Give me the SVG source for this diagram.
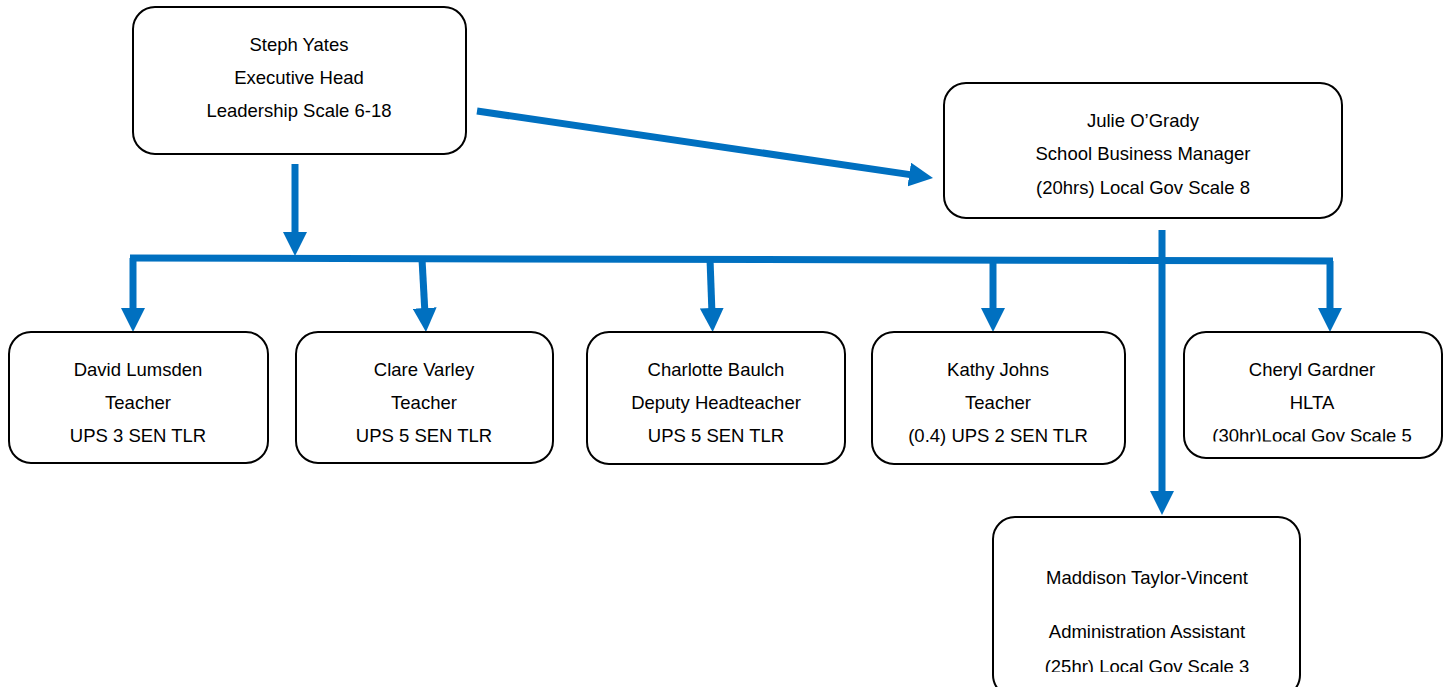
<svg xmlns="http://www.w3.org/2000/svg" width="1448" height="687" viewBox="0 0 1448 687">
<style>
.box{fill:#ffffff;stroke:#000000;stroke-width:2}
.t{font-family:"Liberation Sans",Arial,sans-serif;font-size:18.5px;fill:#000000;text-anchor:middle}
.c{fill:none;stroke:#0070C0;stroke-width:7;stroke-linejoin:miter}
.a{marker-end:url(#arr)}
</style>
<defs>
<marker id="arr" markerUnits="userSpaceOnUse" markerWidth="24" markerHeight="24" viewBox="0 0 24 24" refX="6" refY="12" orient="auto">
<path d="M0,0 L24,12 L0,24 z" fill="#0070C0"/>
</marker>
<clipPath id="clipCheryl"><rect x="1184" y="332" width="258" height="109.5"/></clipPath>
<clipPath id="clipMaddison"><rect x="993" y="517" width="307" height="155"/></clipPath>
</defs>
<rect width="1448" height="687" fill="#ffffff"/>
<g id="connectors">
<path class="c a" d="M295,164 L295,238"/>
<path class="c" d="M130,258 L1333,261"/>
<path class="c a" d="M133,258 L133,314"/>
<path class="c a" d="M422,259 L425,314"/>
<path class="c a" d="M710,259 L712,314"/>
<path class="c a" d="M993,260 L993,314"/>
<path class="c a" d="M1330,261 L1330,314"/>
<path class="c a" d="M1162,230 L1162,497"/>
<path class="c a" d="M477,111 L915.2,175.4"/>
</g>
<g id="steph">
<rect class="box" x="133" y="7" width="333" height="147" rx="22"/>
<text class="t" x="299" y="51">Steph Yates</text>
<text class="t" x="299" y="84">Executive Head</text>
<text class="t" x="299" y="117">Leadership Scale 6-18</text>
</g>
<g id="julie">
<rect class="box" x="944" y="83" width="398" height="135" rx="22"/>
<text class="t" x="1143" y="127">Julie O’Grady</text>
<text class="t" x="1143" y="160">School Business Manager</text>
<text class="t" x="1143" y="194">(20hrs) Local Gov Scale 8</text>
</g>
<g id="david">
<rect class="box" x="9" y="332" width="259" height="131" rx="22"/>
<text class="t" x="138" y="376">David Lumsden</text>
<text class="t" x="138" y="409">Teacher</text>
<text class="t" x="138" y="442">UPS 3 SEN TLR</text>
</g>
<g id="clare">
<rect class="box" x="296" y="332" width="257" height="131" rx="22"/>
<text class="t" x="424" y="376">Clare Varley</text>
<text class="t" x="424" y="409">Teacher</text>
<text class="t" x="424" y="442">UPS 5 SEN TLR</text>
</g>
<g id="charlotte">
<rect class="box" x="587" y="332" width="258" height="132" rx="22"/>
<text class="t" x="716" y="376">Charlotte Baulch</text>
<text class="t" x="716" y="409">Deputy Headteacher</text>
<text class="t" x="716" y="442">UPS 5 SEN TLR</text>
</g>
<g id="kathy">
<rect class="box" x="872" y="332" width="253" height="132" rx="22"/>
<text class="t" x="998" y="376">Kathy Johns</text>
<text class="t" x="998" y="409">Teacher</text>
<text class="t" x="998" y="442">(0.4) UPS 2 SEN TLR</text>
</g>
<g id="cheryl">
<rect class="box" x="1184" y="332" width="258" height="126" rx="22"/>
<text class="t" x="1312" y="376">Cheryl Gardner</text>
<text class="t" x="1312" y="409">HLTA</text>
<text class="t" x="1312" y="442" clip-path="url(#clipCheryl)">(30hr)Local Gov Scale 5</text>
</g>
<g id="maddison">
<rect class="box" x="993" y="517" width="307" height="180" rx="22"/>
<text class="t" x="1147" y="584">Maddison Taylor-Vincent</text>
<text class="t" x="1147" y="638">Administration Assistant</text>
<text class="t" x="1147" y="673" clip-path="url(#clipMaddison)">(25hr) Local Gov Scale 3</text>
</g>
</svg>
